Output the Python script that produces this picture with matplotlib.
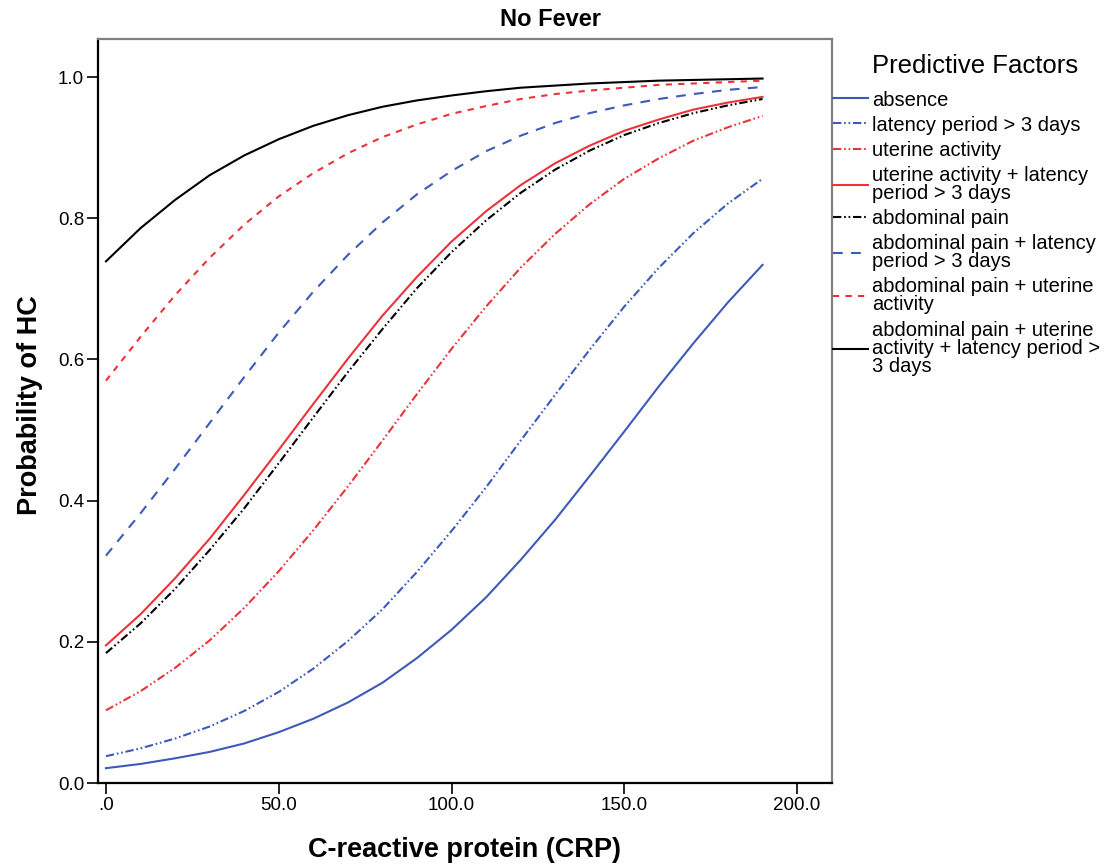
import matplotlib
matplotlib.use("Agg")
import matplotlib.pyplot as plt

plt.rcParams['font.family'] = ['Liberation Sans', 'DejaVu Sans']
plt.rcParams['lines.scale_dashes'] = False

# ---- data ----
crp = [0, 10, 20, 30, 40, 50, 60, 70, 80, 90, 100, 110, 120, 130, 140, 150, 160, 170, 180, 190]

p_absence = [0.021, 0.027, 0.035, 0.044, 0.056, 0.072, 0.091, 0.114, 0.142, 0.177,
             0.217, 0.263, 0.316, 0.373, 0.435, 0.498, 0.562, 0.623, 0.681, 0.734]
p_latency = [0.038, 0.049, 0.063, 0.080, 0.102, 0.129, 0.162, 0.201, 0.246, 0.299,
             0.357, 0.419, 0.485, 0.550, 0.614, 0.675, 0.730, 0.779, 0.821, 0.856]
p_uterine = [0.103, 0.130, 0.163, 0.202, 0.248, 0.300, 0.358, 0.420, 0.485, 0.551,
             0.615, 0.675, 0.730, 0.778, 0.820, 0.856, 0.885, 0.910, 0.929, 0.945]
p_uterine_latency = [0.195, 0.239, 0.290, 0.346, 0.408, 0.472, 0.537, 0.601, 0.662, 0.717,
                     0.767, 0.810, 0.847, 0.878, 0.903, 0.924, 0.940, 0.954, 0.964, 0.972]
p_abdominal = [0.184, 0.226, 0.275, 0.330, 0.389, 0.453, 0.518, 0.582, 0.643, 0.701,
               0.752, 0.797, 0.836, 0.869, 0.896, 0.918, 0.935, 0.949, 0.960, 0.969]
p_abd_latency = [0.322, 0.382, 0.445, 0.510, 0.575, 0.638, 0.696, 0.748, 0.794, 0.834,
                 0.867, 0.895, 0.917, 0.935, 0.949, 0.960, 0.969, 0.976, 0.982, 0.986]
p_abd_uterine = [0.570, 0.632, 0.691, 0.744, 0.791, 0.831, 0.864, 0.892, 0.915, 0.933,
                 0.948, 0.959, 0.969, 0.976, 0.981, 0.985, 0.989, 0.991, 0.993, 0.995]
p_abd_uterine_latency = [0.739, 0.786, 0.826, 0.861, 0.889, 0.912, 0.931, 0.946, 0.958, 0.967,
                         0.974, 0.980, 0.985, 0.988, 0.991, 0.993, 0.995, 0.996, 0.997, 0.998]

series_labels = [
    "absence",
    "latency period > 3 days",
    "uterine activity",
    "uterine activity + latency\nperiod > 3 days",
    "abdominal pain",
    "abdominal pain + latency\nperiod > 3 days",
    "abdominal pain + uterine\nactivity",
    "abdominal pain + uterine\nactivity + latency period >\n3 days",
]
series_values = [p_absence, p_latency, p_uterine, p_uterine_latency,
                 p_abdominal, p_abd_latency, p_abd_uterine, p_abd_uterine_latency]

x_ticks = [0, 50, 100, 150, 200]
x_tick_labels = [".0", "50.0", "100.0", "150.0", "200.0"]
y_ticks = [0.0, 0.2, 0.4, 0.6, 0.8, 1.0]
y_tick_labels = ["0.0", "0.2", "0.4", "0.6", "0.8", "1.0"]

title_text = "No Fever"
x_label = "C-reactive protein (CRP)"
y_label = "Probability of HC"
legend_title = "Predictive Factors"

# ---- styles ----
BLUE = "#3C5AB9"
RED = "#EB3339"
BLACK = "#000000"
DDOT = (0, (6, 2, 1.2, 2, 1.2, 2))
styles = [
    dict(color=BLUE, linestyle="-"),
    dict(color=BLUE, linestyle=DDOT),
    dict(color=RED, linestyle=DDOT),
    dict(color=RED, linestyle="-"),
    dict(color=BLACK, linestyle=DDOT),
    dict(color=BLUE, linestyle=(0, (7, 6))),
    dict(color=RED, linestyle=(0, (4.5, 4.5))),
    dict(color=BLACK, linestyle="-"),
]

W, H = 1109, 867
fig = plt.figure(figsize=(W / 100, H / 100), dpi=100)
ax = fig.add_axes([98 / W, 1 - 783 / H, (832 - 98) / W, (783 - 39) / H])

for vals, lab, st in zip(series_values, series_labels, styles):
    ax.plot(crp, vals, label=lab, linewidth=1.5, **st)

ax.set_xlim(-2.3, 210.1)
ax.set_ylim(0.0, 1.054)
ax.set_xticks(x_ticks)
ax.set_xticklabels(x_tick_labels)
ax.set_yticks(y_ticks)
ax.set_yticklabels(y_tick_labels)
ax.tick_params(axis="both", direction="out", length=8, width=1.2, labelsize=13.5,
               color="black", pad=2)

for side in ("left", "bottom"):
    ax.spines[side].set_color("black")
    ax.spines[side].set_linewidth(1.6)
for side in ("top", "right"):
    ax.spines[side].set_color("#808080")
    ax.spines[side].set_linewidth(1.6)

fig.text(551 / W, 1 - 20 / H, title_text, ha="center", va="center",
         fontsize=17, fontweight="bold")
fig.text(464 / W, 1 - 850 / H, x_label, ha="center", va="center",
         fontsize=19.5, fontweight="bold")
fig.text(30 / W, 1 - 405 / H, y_label, ha="center", va="center",
         rotation=90, fontsize=19.5, fontweight="bold")

leg = ax.legend(loc="upper left", bbox_to_anchor=(833 / W, 1 - 54 / H),
                bbox_transform=fig.transFigure, frameon=False,
                fontsize=14.5, title=legend_title, title_fontsize=18.5,
                handlelength=1.75, handletextpad=0.2, labelspacing=0.3,
                borderpad=0, borderaxespad=0, alignment="left")
for t in leg.get_texts():
    t.set_linespacing(0.95)
leg._legend_box.sep = 9
leg._legend_title_box.set_offset if False else None
# indent the title so it starts where the entry texts start
from matplotlib.offsetbox import HPacker, DrawingArea
leg._legend_title_box = leg._legend_title_box
title_row = HPacker(pad=0, sep=0, children=[DrawingArea(39 * 72 / 100, 1), leg._legend_title_box])
leg._legend_box._children[0] = title_row

fig.savefig("out.png", dpi=100)
